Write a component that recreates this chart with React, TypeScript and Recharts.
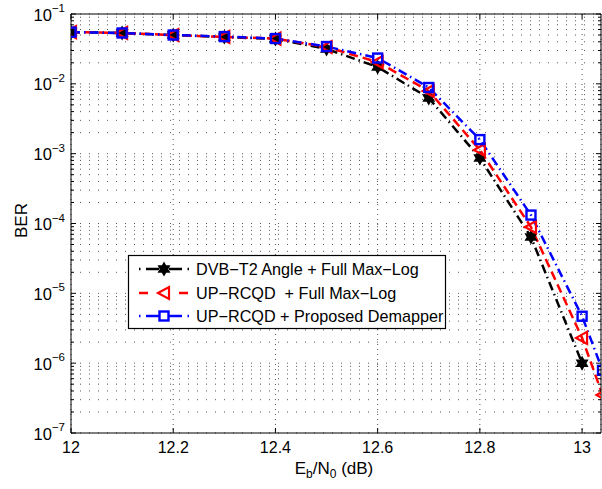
import React from 'react';
import { LineChart, Line, XAxis, YAxis, CartesianGrid, Legend } from 'recharts';

const ebN0 = [12, 12.1, 12.2, 12.3, 12.4, 12.5, 12.6, 12.7, 12.8, 12.9, 13.0, 13.04];
const dvbT2FullMaxLog = [5.5e-2, 5.35e-2, 5.0e-2, 4.68e-2, 4.38e-2, 3.16e-2, 1.74e-2, 6.26e-3, 8.65e-4, 6.4e-5, 1.0e-6, null];
const upRcqdFullMaxLog = [5.5e-2, 5.35e-2, 5.0e-2, 4.7e-2, 4.45e-2, 3.37e-2, 2.05e-2, 7.9e-3, 1.13e-3, 8.9e-5, 2.3e-6, 3.5e-7];
const upRcqdProposed = [5.5e-2, 5.35e-2, 5.0e-2, 4.75e-2, 4.45e-2, 3.42e-2, 2.34e-2, 8.86e-3, 1.59e-3, 1.32e-4, 4.7e-6, 7.9e-7];

const xTicks = [12, 12.2, 12.4, 12.6, 12.8, 13];
const yDecadeExponents = [-7, -6, -5, -4, -3, -2, -1];
const seriesNames = [
  'DVB\u2212T2 Angle + Full Max\u2212Log',
  'UP\u2212RCQD  + Full Max\u2212Log',
  'UP\u2212RCQD + Proposed Demapper',
];

const FONT = '"Liberation Sans", Arial, Helvetica, sans-serif';
const X_DOMAIN: [number, number] = [12, 13.037];
const Y_DOMAIN: [number, number] = [1e-7, 1e-1];

const yTicks: number[] = [];
yDecadeExponents.forEach((e) => {
  if (e === -1) {
    yTicks.push(Math.pow(10, e));
  } else {
    for (let k = 1; k <= 9; k++) yTicks.push(k * Math.pow(10, e));
  }
});

const data = ebN0.map((x, i) => ({
  x,
  a: dvbT2FullMaxLog[i],
  b: upRcqdFullMaxLog[i],
  c: upRcqdProposed[i],
}));

const isDecade = (v: number) => {
  const l = Math.log10(v);
  return Math.abs(l - Math.round(l)) < 1e-6;
};

const hexagramPoints = (cx: number, cy: number, R: number) => {
  const r = R / Math.sqrt(3);
  const pts: string[] = [];
  for (let i = 0; i < 12; i++) {
    const a = Math.PI / 2 + (i * Math.PI) / 6;
    const rad = i % 2 === 0 ? R : r;
    pts.push(`${cx + rad * Math.cos(a)},${cy - rad * Math.sin(a)}`);
  }
  return pts.join(' ');
};

const Star = ({ cx, cy }: { cx: number; cy: number }) => (
  <polygon points={hexagramPoints(cx, cy, 6)} fill="#000" stroke="#000" strokeWidth={1.5} strokeLinejoin="miter" />
);
const TriLeft = ({ cx, cy }: { cx: number; cy: number }) => (
  <polygon
    points={`${cx - 6},${cy} ${cx + 5},${cy - 6} ${cx + 5},${cy + 6}`}
    fill="none"
    stroke="#ff0000"
    strokeWidth={2.2}
  />
);
const Square = ({ cx, cy }: { cx: number; cy: number }) => (
  <rect x={cx - 4.5} y={cy - 4.5} width={9} height={9} fill="none" stroke="#0000ff" strokeWidth={2.4} />
);

const makeDot = (Shape: any) => (p: any) => {
  const key = `dot-${p.index}`;
  if (p.cx == null || p.cy == null || p.value == null || (Array.isArray(p.value) && p.value[1] == null)) {
    return <g key={key} />;
  }
  return (
    <g key={key}>
      <Shape cx={p.cx} cy={p.cy} />
    </g>
  );
};

const LeftTick = (props: any) => {
  const { x, y, payload } = props;
  const v = payload.value;
  const dec = isDecade(v);
  const len = dec ? 5 : 3;
  return (
    <g>
      <line x1={x} x2={x + len} y1={y} y2={y} stroke="#000" strokeWidth={1} />
      {dec && (
        <text x={x - 6} y={y + 6.5} textAnchor="end" fontSize={16.5} fill="#000" fontFamily={FONT}>
          <tspan>10</tspan>
          <tspan dy={-8.5} fontSize={11.5}>{'\u2212' + Math.abs(Math.round(Math.log10(v)))}</tspan>
        </text>
      )}
    </g>
  );
};

const RightTick = (props: any) => {
  const { x, y, payload } = props;
  const len = isDecade(payload.value) ? 5 : 3;
  return <line x1={x} x2={x - len} y1={y} y2={y} stroke="#000" strokeWidth={1} />;
};

const BottomTick = (props: any) => {
  const { x, y, payload } = props;
  return (
    <g>
      <line x1={x} x2={x} y1={y} y2={y - 5} stroke="#000" strokeWidth={1} />
      <text x={x} y={y + 20} textAnchor="middle" fontSize={16} fill="#000" fontFamily={FONT}>
        {String(payload.value)}
      </text>
    </g>
  );
};

const TopTick = (props: any) => {
  const { x, y } = props;
  return <line x1={x} x2={x} y1={y} y2={y + 5} stroke="#000" strokeWidth={1} />;
};

const LegendContent = () => {
  const rows = [14, 38, 61];
  return (
    <svg width={318} height={75} style={{ display: 'block', overflow: 'visible' }}>
      <rect x={0.5} y={0.5} width={317} height={73} fill="#fff" stroke="#000" strokeWidth={1.2} />
      <g>
        <line x1={11} x2={12.5} y1={rows[0]} y2={rows[0]} stroke="#000" strokeWidth={2.5} />
        <line x1={18} x2={31} y1={rows[0]} y2={rows[0]} stroke="#000" strokeWidth={2.5} />
        <line x1={41} x2={54} y1={rows[0]} y2={rows[0]} stroke="#000" strokeWidth={2.5} />
        <line x1={59.5} x2={61} y1={rows[0]} y2={rows[0]} stroke="#000" strokeWidth={2.5} />
        <Star cx={36} cy={rows[0]} />
      </g>
      <g>
        <line x1={11} x2={20} y1={rows[1]} y2={rows[1]} stroke="#ff0000" strokeWidth={2.5} />
        <line x1={51} x2={60} y1={rows[1]} y2={rows[1]} stroke="#ff0000" strokeWidth={2.5} />
        <TriLeft cx={36} cy={rows[1]} />
      </g>
      <g>
        <line x1={11} x2={12.5} y1={rows[2]} y2={rows[2]} stroke="#0000ff" strokeWidth={2.5} />
        <line x1={18} x2={31} y1={rows[2]} y2={rows[2]} stroke="#0000ff" strokeWidth={2.5} />
        <line x1={41} x2={54} y1={rows[2]} y2={rows[2]} stroke="#0000ff" strokeWidth={2.5} />
        <line x1={59.5} x2={61} y1={rows[2]} y2={rows[2]} stroke="#0000ff" strokeWidth={2.5} />
        <Square cx={36} cy={rows[2]} />
      </g>
      {seriesNames.map((n, i) => (
        <text
          key={n}
          x={68}
          y={rows[i] + 6}
          fontSize={16.2}
          fill="#000"
          fontFamily={FONT}
          style={{ whiteSpace: 'pre' }}
        >
          {n}
        </text>
      ))}
    </svg>
  );
};

const YLabel = (props: any) => {
  const vb = props.viewBox || { x: 0, y: 14, width: 71, height: 419 };
  const cx = vb.x + 27;
  const cy = vb.y + vb.height / 2 - 3;
  return (
    <text x={cx} y={cy} transform={`rotate(-90 ${cx} ${cy})`} textAnchor="middle" fontSize={17} fill="#000" fontFamily={FONT}>
      BER
    </text>
  );
};

const XLabel = (props: any) => {
  const vb = props.viewBox || { x: 71, y: 433, width: 530, height: 56 };
  const cx = vb.x + vb.width / 2 - 2;
  const cy = vb.y + 41;
  return (
    <text x={cx} y={cy} textAnchor="middle" fontSize={17} fill="#000" fontFamily={FONT}>
      <tspan>E</tspan>
      <tspan dy={4} fontSize={12}>b</tspan>
      <tspan dy={-4}>/N</tspan>
      <tspan dy={4} fontSize={12}>0</tspan>
      <tspan dy={-4}> (dB)</tspan>
    </text>
  );
};

export default function App() {
  return (
    <div style={{ position: 'absolute', left: 0, top: 0, width: 602, height: 489, background: '#fff' }}>
      <LineChart width={602} height={489} data={data} margin={{ top: 13, right: 0, bottom: 0, left: 0 }}>
        <CartesianGrid vertical={false} stroke="#555" strokeDasharray="1 8" strokeWidth={1} />
        <CartesianGrid horizontal={false} stroke="#555" strokeDasharray="1 4" strokeWidth={1} />
        <XAxis
          dataKey="x"
          type="number"
          domain={X_DOMAIN}
          allowDataOverflow
          ticks={xTicks}
          interval={0}
          height={56}
          tickSize={0}
          tickMargin={0}
          tickLine={false}
          axisLine={{ stroke: '#000', strokeWidth: 1 }}
          tick={<BottomTick />}
          label={<XLabel />}
        />
        <XAxis
          xAxisId="top"
          orientation="top"
          dataKey="x"
          type="number"
          domain={X_DOMAIN}
          allowDataOverflow
          ticks={xTicks}
          interval={0}
          height={1}
          tickSize={0}
          tickMargin={0}
          tickLine={false}
          axisLine={{ stroke: '#000', strokeWidth: 1 }}
          tick={<TopTick />}
        />
        <YAxis
          type="number"
          scale="log"
          domain={Y_DOMAIN}
          allowDataOverflow
          ticks={yTicks}
          interval={0}
          width={71}
          tickSize={0}
          tickMargin={0}
          tickLine={false}
          axisLine={{ stroke: '#000', strokeWidth: 1 }}
          tick={<LeftTick />}
          label={<YLabel />}
        />
        <YAxis
          yAxisId="right"
          orientation="right"
          type="number"
          scale="log"
          domain={Y_DOMAIN}
          allowDataOverflow
          ticks={yTicks}
          interval={0}
          width={1}
          tickSize={0}
          tickMargin={0}
          tickLine={false}
          axisLine={{ stroke: '#000', strokeWidth: 1 }}
          tick={<RightTick />}
        />
        <Line
          type="linear"
          dataKey="a"
          name={seriesNames[0]}
          stroke="#000"
          strokeWidth={2.5}
          strokeDasharray="9 4 1.5 4"
          dot={makeDot(Star)}
          activeDot={false}
          isAnimationActive={false}
        />
        <Line
          type="linear"
          dataKey="b"
          name={seriesNames[1]}
          stroke="#ff0000"
          strokeWidth={2.5}
          strokeDasharray="9 5"
          dot={makeDot(TriLeft)}
          activeDot={false}
          isAnimationActive={false}
        />
        <Line
          type="linear"
          dataKey="c"
          name={seriesNames[2]}
          stroke="#0000ff"
          strokeWidth={2.5}
          strokeDasharray="9 4 1.5 4"
          dot={makeDot(Square)}
          activeDot={false}
          isAnimationActive={false}
        />
        <Legend
          layout="vertical"
          align="center"
          verticalAlign="middle"
          content={<LegendContent />}
          wrapperStyle={{ position: 'absolute', left: 128, top: 255, width: 318, height: 75 }}
        />
      </LineChart>
    </div>
  );
}
